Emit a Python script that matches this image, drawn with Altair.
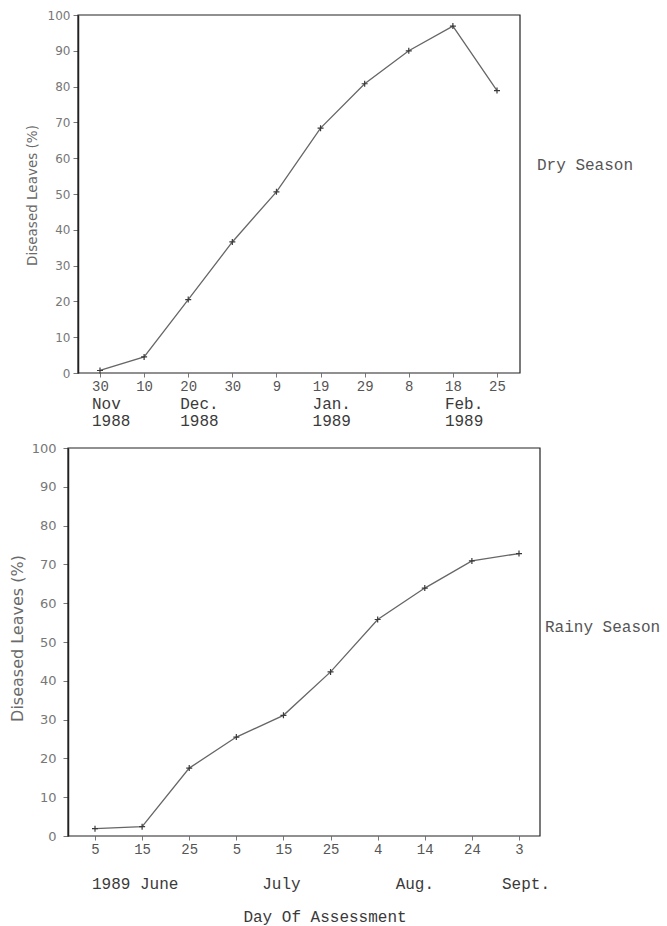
import altair as alt
import pandas as pd

# ---- Dry season 1988/89 ----
dry_dates = ["1988-11-30", "1988-12-10", "1988-12-20", "1988-12-30", "1989-01-09",
             "1989-01-19", "1989-01-29", "1989-02-08", "1989-02-18", "1989-02-25"]
dry_values = [0.7, 4.5, 20.5, 36.6, 50.6, 68.4, 80.8, 90.0, 96.9, 78.9]
dry_month_at = ["1988-11-30", "1988-12-20", "1989-01-19", "1989-02-18"]
dry_months = ["Nov", "Dec.", "Jan.", "Feb."]
dry_years = ["1988", "1988", "1989", "1989"]

# ---- Rainy season 1989 ----
rainy_dates = ["1989-06-05", "1989-06-15", "1989-06-25", "1989-07-05", "1989-07-15",
               "1989-07-25", "1989-08-04", "1989-08-14", "1989-08-24", "1989-09-03"]
rainy_values = [1.9, 2.4, 17.5, 25.5, 31.1, 42.3, 55.8, 63.9, 70.9, 72.8]
rainy_month_at = ["1989-06-05", "1989-07-15", "1989-08-04", "1989-09-03"]
rainy_months = ["1989 June", "July", "Aug.", "Sept."]

y_title = "Diseased Leaves (%)"
x_title = "Day Of Assessment"

W, H = 667, 926
MONO = "Liberation Mono"
SANS = "DejaVu Sans"
LINE = "#666666"
INK = "#3a3a3a"
FRAME = "#222222"
PLUS = "M-1,0L1,0M0,-1L0,1"

# panel boxes: left, right, top, bottom (pixels)
TOP_BOX = (78, 520, 15, 373)
BOT_BOX = (68, 540, 448, 836)


def x_enc(dates, rng, box, show_axis):
    axis = None
    if show_axis:
        axis = alt.Axis(
            title=None, orient="bottom", offset=box[3] - H, labelAngle=0,
            labelExpr="toNumber(slice(datum.value, 8))",
            labelFont=MONO, labelFontSize=14, labelColor="#555555",
            tickSize=4, tickColor="#777777", labelPadding=2,
            domain=False, grid=False,
        )
    return alt.X("date:O", sort=dates, axis=axis,
                 scale=alt.Scale(type="point", domain=dates, range=rng, padding=0))


def y_enc(box, label_size, label_pad, title_size, title_x, title_y, show_axis):
    axis = None
    if show_axis:
        axis = alt.Axis(
            title=y_title, orient="left", offset=-box[0],
            values=list(range(0, 101, 10)), grid=False,
            labelFont=SANS, labelFontSize=label_size, labelColor="#777777",
            labelPadding=label_pad, tickSize=5, tickColor="#777777",
            domainColor=FRAME, domainWidth=1.5,
            titleFont=SANS, titleFontSize=title_size, titleFontWeight="normal",
            titleColor="#6a6a6a", titleX=title_x, titleY=title_y,
            titleAlign="center", titleBaseline="middle", titleAngle=-90,
        )
    return alt.Y("value:Q", axis=axis,
                 scale=alt.Scale(domain=[0, 100], nice=False, zero=True,
                                 range=[box[3], box[2]]))


def series(dates, values, rng, box, label_size, label_pad, title_size, title_x, title_y):
    df = pd.DataFrame({"date": dates, "value": values})
    line = alt.Chart(df).mark_line(color=LINE, strokeWidth=1.3).encode(
        x=x_enc(dates, rng, box, True),
        y=y_enc(box, label_size, label_pad, title_size, title_x, title_y, True),
    )
    pts = alt.Chart(df).mark_point(
        shape=PLUS, size=36, filled=False, color=INK, strokeWidth=1.2, opacity=1
    ).encode(
        x=x_enc(dates, rng, box, False),
        y=y_enc(box, label_size, label_pad, title_size, title_x, title_y, False),
    )
    frame = alt.Chart(alt.Data(values=[{}])).mark_rect(
        fill="transparent", stroke=FRAME, strokeWidth=1.2
    ).encode(x=alt.value(box[0]), x2=alt.value(box[1]),
             y=alt.value(box[2]), y2=alt.value(box[3]))
    return [frame, line, pts]


def note(text, x, y, align="left", size=16, color=INK):
    return alt.Chart(alt.Data(values=[{"t": text}])).mark_text(
        font=MONO, fontSize=size, color=color, align=align, baseline="middle"
    ).encode(x=alt.value(x), y=alt.value(y), text="t:N")


layers = []

# dry season panel
TOP_RANGE = [100, 497]
layers += series(dry_dates, dry_values, TOP_RANGE, TOP_BOX, 12, 3, 13.5, -46, 195)
dry_ann = pd.DataFrame({"date": dry_month_at, "month": dry_months, "year": dry_years})
for field, yy in (("month", 404), ("year", 421)):
    layers.append(
        alt.Chart(dry_ann).mark_text(
            font=MONO, fontSize=16, color=INK, align="left", baseline="middle", dx=-8
        ).encode(x=x_enc(dry_dates, TOP_RANGE, TOP_BOX, False),
                 y=alt.value(yy), text=f"{field}:N")
    )
layers.append(note("Dry Season", 537, 165, color="#555555"))

# rainy season panel
BOT_RANGE = [95, 519]
layers += series(rainy_dates, rainy_values, BOT_RANGE, BOT_BOX, 13, 7, 16, -51, 638)
month_style = [("left", -3), ("center", -2), ("left", 18), ("center", 7)]
for d, m, (al, dx) in zip(rainy_month_at, rainy_months, month_style):
    layers.append(
        alt.Chart(pd.DataFrame({"date": [d], "month": [m]})).mark_text(
            font=MONO, fontSize=16, color=INK, align=al, baseline="middle", dx=dx
        ).encode(x=x_enc(rainy_dates, BOT_RANGE, BOT_BOX, False),
                 y=alt.value(884), text="month:N")
    )
layers.append(note(x_title, 325, 917, align="center"))
layers.append(note("Rainy Season", 545, 627, color="#555555"))

chart = alt.layer(*layers).resolve_scale(
    x="independent", y="independent"
).resolve_axis(
    x="independent", y="independent"
).properties(
    width=W, height=H, padding=0, background="white",
    autosize=alt.AutoSizeParams(type="none"),
).configure_view(stroke=None)

chart.save("out.html", embed_options={"renderer": "svg", "actions": False})
